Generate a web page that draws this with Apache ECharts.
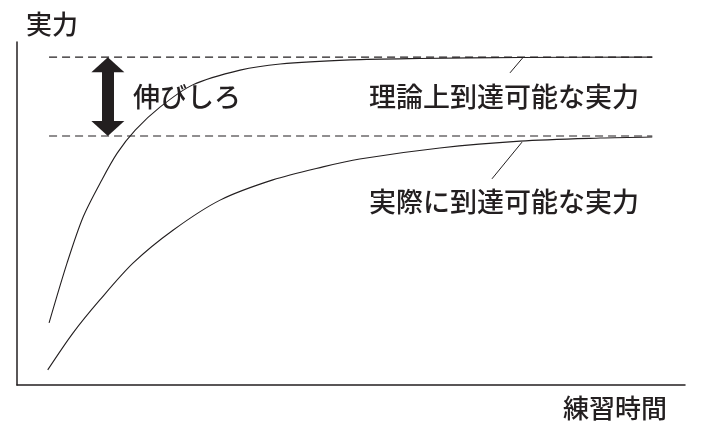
<!DOCTYPE html>
<html>
<head>
<meta charset="utf-8">
<script src="https://cdn.jsdelivr.net/npm/echarts@6/dist/echarts.min.js"></script>
<style>
html,body{margin:0;padding:0;background:#fff;}
#chart{width:703px;height:438px;}
</style>
</head>
<body>
<div id="chart"></div>
<script>
// 横: 練習時間 0-100, 縦: 実力 0-100
var upperX = [4.8, 7.5, 9.9, 12.7, 15.0, 17.7, 21.4, 26.3, 33.4, 39.4, 49.9, 60.3, 75.3, 95.1];
var upperY = [18.1, 35.6, 49.0, 59.8, 67.6, 74.3, 81.0, 87.5, 91.8, 93.6, 94.8, 95.2, 95.5, 95.6];
var lowerX = [4.6, 8.4, 12.4, 17.4, 23.4, 30.4, 38.3, 45.8, 51.3, 63.3, 75.3, 87.3, 95.1];
var lowerY = [4.4, 15.2, 24.8, 35.6, 45.2, 53.9, 59.8, 63.6, 65.9, 69.1, 71.1, 72.0, 72.3];
var limitTheory = 95.6;
var limitReal = 72.6;
var limitX = [4.8, 95.1];
var labelTexts = ['伸びしろ', '理論上到達可能な実力', '実際に到達可能な実力'];
var xName = '練習時間';
var yName = '実力';

var FONT = '"Noto Sans CJK JP", "Noto Sans", sans-serif';
var INK = '#231f20';

function pairs(xs, ys) {
  var out = [];
  for (var i = 0; i < xs.length; i++) out.push([xs[i], ys[i]]);
  return out;
}

var chart = echarts.init(document.getElementById('chart'), null, { renderer: 'canvas' });

var option = {
  animation: false,
  backgroundColor: '#fff',
  grid: { left: 17, right: 18, top: 42, bottom: 53 },
  xAxis: {
    type: 'value', min: 0, max: 100,
    name: xName, nameLocation: 'end', nameGap: -122,
    nameTextStyle: { fontFamily: FONT, fontSize: 26, fontWeight: 500, color: INK, align: 'left', verticalAlign: 'top', padding: [10, 0, 0, 0] },
    axisLine: { show: true, lineStyle: { color: INK, width: 1.5 } },
    axisTick: { show: false }, axisLabel: { show: false }, splitLine: { show: false }
  },
  yAxis: {
    type: 'value', min: 0, max: 100,
    axisLine: { show: true, lineStyle: { color: INK, width: 1.5 } },
    axisTick: { show: false }, axisLabel: { show: false }, splitLine: { show: false }
  },
  graphic: [
    // 縦軸の名前
    { type: 'text', left: 26, top: 11, style: { text: yName, font: '500 26px ' + FONT, fill: INK } },
    { type: 'text', left: 133, top: 83, style: { text: labelTexts[0], font: '500 27px ' + FONT, fill: INK } },
    { type: 'text', left: 369, top: 83, style: { text: labelTexts[1], font: '500 27px ' + FONT, fill: INK } },
    { type: 'text', left: 369, top: 188, style: { text: labelTexts[2], font: '500 27px ' + FONT, fill: INK } }
  ],
  series: [
    {
      // 理論上の上限
      type: 'line', symbol: 'none', silent: true,
      data: [[limitX[0], limitTheory], [limitX[1], limitTheory]],
      lineStyle: { color: INK, width: 1.2, type: [8, 5] }
    },
    {
      // 実際の上限
      type: 'line', symbol: 'none', silent: true,
      data: [[limitX[0], limitReal], [limitX[1], limitReal]],
      lineStyle: { color: INK, width: 1.2, type: [8, 5] }
    },
    {
      type: 'line', symbol: 'none', smooth: 0.3, silent: true,
      data: pairs(upperX, upperY),
      lineStyle: { color: INK, width: 1.1 },
      markLine: {
        silent: true, symbol: 'none', animation: false,
        label: { show: false },
        lineStyle: { color: INK, width: 1, type: 'solid' },
        data: [
          [{ coord: [73.8, 91.0] }, { coord: [75.8, 95.6] }]
        ]
      }
    },
    {
      type: 'line', symbol: 'none', smooth: 0.3, silent: true,
      data: pairs(lowerX, lowerY),
      lineStyle: { color: INK, width: 1.1 },
      markLine: {
        silent: true, animation: false,
        label: { show: false },
        data: [
          // 引き出し線
          [{ coord: [71.1, 60.1], symbol: 'none', lineStyle: { color: INK, width: 1, type: 'solid' } },
           { coord: [75.6, 70.8], symbol: 'none' }],
          // 伸びしろの矢印
          [{ coord: [13.6, limitReal + 2.2], symbol: 'triangle', symbolSize: [33, 15], lineStyle: { color: INK, width: 12, type: 'solid' }, itemStyle: { color: INK } },
           { coord: [13.6, limitTheory - 2.2], symbol: 'triangle', symbolSize: [33, 15], itemStyle: { color: INK } }]
        ]
      }
    }
  ]
};

chart.setOption(option);
</script>
</body>
</html>
